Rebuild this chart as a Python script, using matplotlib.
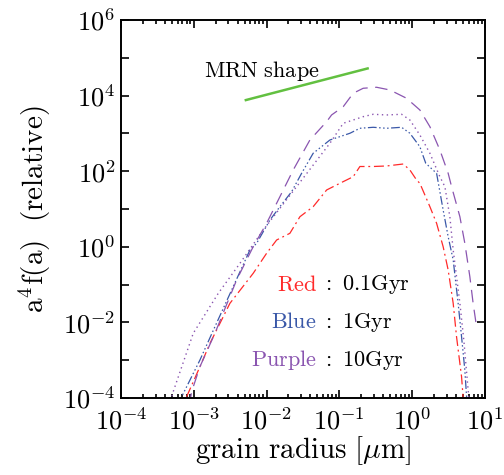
import numpy as np
import matplotlib
matplotlib.use('Agg')
import matplotlib.pyplot as plt

plt.rcParams['font.family'] = 'serif'
plt.rcParams['font.serif'] = ['DejaVu Serif']
plt.rcParams['mathtext.fontset'] = 'cm'

# grain radius [um] and a^4 f(a) (log10 values)
red_x = [-3.098, -2.915, -2.777, -2.503, -2.183, -1.999, -1.861, -1.679, -1.541, -1.359,
         -1.174, -0.992, -0.809, -0.717, -0.534, -0.350, -0.122, -0.030, 0.062, 0.107,
         0.245, 0.337, 0.427, 0.496, 0.565, 0.611, 0.680, 0.702, 0.72]
red_y = [-3.966, -3.172, -2.553, -1.495, -0.701, -0.172, 0.180, 0.357, 0.796, 1.061,
         1.503, 1.680, 1.854, 2.124, 2.124, 2.138, 2.190, 2.032, 1.767, 1.680,
         1.061, 0.622, 0.003, -0.614, -1.495, -2.378, -3.437, -4.0, -4.6]

blue_x = [-3.20, -3.166, -2.915, -2.709, -2.479, -2.228, -2.136, -1.953, -1.816, -1.655,
          -1.518, -1.359, -1.129, -0.992, -0.854, -0.717, -0.534, -0.350, -0.144, -0.030,
          0.107, 0.188, 0.337, 0.427, 0.496, 0.565, 0.633, 0.680, 0.725, 0.749, 0.77]
blue_y = [-4.2, -3.966, -2.995, -2.114, -1.143, -0.085, 0.093, 0.709, 1.061, 1.458,
          1.944, 2.474, 2.825, 2.913, 3.003, 3.135, 3.161, 3.135, 3.161, 3.003,
          2.648, 2.209, 1.944, 0.974, 0.267, -0.349, -1.495, -2.378, -3.259, -3.966, -4.5]

dot_x = [-3.33, -3.290, -3.007, -2.663, -2.365, -2.045, -1.587, -1.129, -0.946, -0.809,
         -0.672, -0.534, -0.350, -0.144, -0.030, 0.107, 0.245, 0.382, 0.451, 0.519,
         0.565, 0.657, 0.711, 0.78, 0.80]
dot_y = [-4.2, -3.876, -2.288, -1.230, -0.437, 0.444, 1.590, 2.738, 3.267, 3.354,
         3.442, 3.505, 3.487, 3.505, 3.354, 2.958, 2.474, 1.854, 1.590, 0.796,
         -0.085, -1.49, -2.47, -4.0, -4.5]

purple_x = [-3.06, -3.029, -2.915, -2.709, -2.411, -2.183, -1.999, -1.816, -1.633, -1.404,
            -1.174, -1.106, -0.946, -0.809, -0.672, -0.488, -0.305, -0.076, 0.107, 0.245,
            0.382, 0.496, 0.543, 0.657, 0.725, 0.794, 0.839, 0.886]
purple_y = [-4.2, -3.833, -3.172, -2.288, -0.878, 0.003, 0.622, 1.325, 2.032, 2.825,
            3.310, 3.487, 3.706, 4.061, 4.193, 4.220, 4.148, 3.929, 3.619, 3.177,
            2.561, 1.944, 1.590, 0.796, 0.093, -0.791, -1.495, -2.114]

mrn_x = [0.0052, 0.245]
mrn_slope = 0.5
mrn_y0 = 7.6e3

legend_names = ['Red', 'Blue', 'Purple']
legend_ages = ['0.1Gyr', '1Gyr', '10Gyr']
legend_y = [1e-1, 1e-2, 1e-3]

xticks = [1e-4, 1e-3, 1e-2, 1e-1, 1e0, 1e1]
xticklabels = ['$10^{-4}$', '$10^{-3}$', '$10^{-2}$', '$10^{-1}$', '$10^{0}$', '$10^{1}$']
yticks = [10.0 ** k for k in range(-4, 7)]
yticklabels = ['$10^{%d}$' % k if k % 2 == 0 else '' for k in range(-4, 7)]

c_red = '#ff2a2a'
c_blue = '#3a58a8'
c_purple = '#8a55b0'
c_green = '#62c040'

fig = plt.figure(figsize=(5.04, 4.75), dpi=100)
ax = fig.add_axes([0.240, 0.162, 0.722, 0.796])

ax.plot(10 ** np.array(red_x), 10 ** np.array(red_y), color=c_red, lw=0.9,
        dashes=(8, 3, 1.5, 3))
ax.plot(10 ** np.array(blue_x), 10 ** np.array(blue_y), color=c_blue, lw=0.9,
        dashes=(7, 2, 1.2, 2, 1.2, 2, 1.2, 2))
ax.plot(10 ** np.array(dot_x), 10 ** np.array(dot_y), color=c_purple, lw=1.0,
        dashes=(1, 2.5))
ax.plot(10 ** np.array(purple_x), 10 ** np.array(purple_y), color=c_purple, lw=0.9,
        dashes=(10, 6))

mx = np.array(mrn_x)
ax.plot(mx, mrn_y0 * (mx / mx[0]) ** mrn_slope, color=c_green, lw=1.8)
ax.text(1.4e-3, 10 ** 4.65, r'$\mathrm{MRN\ shape}$', fontsize=16, ha='left', va='center')

for name, age, yy, cc in zip(legend_names, legend_ages, legend_y, [c_red, c_blue, c_purple]):
    ax.text(0.049, yy, r'$\mathrm{%s}$' % name, color=cc, fontsize=16, ha='right', va='center')
    ax.text(0.058, yy, r'$\mathrm{:\ %s}$' % age, color='black', fontsize=16,
            ha='left', va='center')

ax.set_xscale('log')
ax.set_yscale('log')
ax.set_xlim(1e-4, 1e1)
ax.set_ylim(1e-4, 1e6)

ax.set_xticks(xticks)
ax.set_xticklabels(xticklabels)
ax.xaxis.set_minor_locator(matplotlib.ticker.LogLocator(base=10, subs=np.arange(2, 10), numticks=20))
ax.xaxis.set_minor_formatter(matplotlib.ticker.NullFormatter())
ax.set_yticks(yticks)
ax.set_yticklabels(yticklabels)
ax.yaxis.set_minor_locator(matplotlib.ticker.NullLocator())

ax.tick_params(which='both', direction='in', top=True, right=True, width=1.2, labelsize=19)
ax.tick_params(which='major', length=6)
ax.tick_params(which='minor', length=3)
ax.tick_params(axis='x', pad=7)
ax.tick_params(axis='y', pad=4)
for s in ax.spines.values():
    s.set_linewidth(1.4)

ax.set_xlabel(r'$\mathrm{grain\ radius\ [\mu m]}$', fontsize=21, labelpad=0)
ax.set_ylabel(r'$\mathrm{a^4f(a)\ \ (relative)}$', fontsize=21, labelpad=7)

fig.savefig('out.png', dpi=100)
